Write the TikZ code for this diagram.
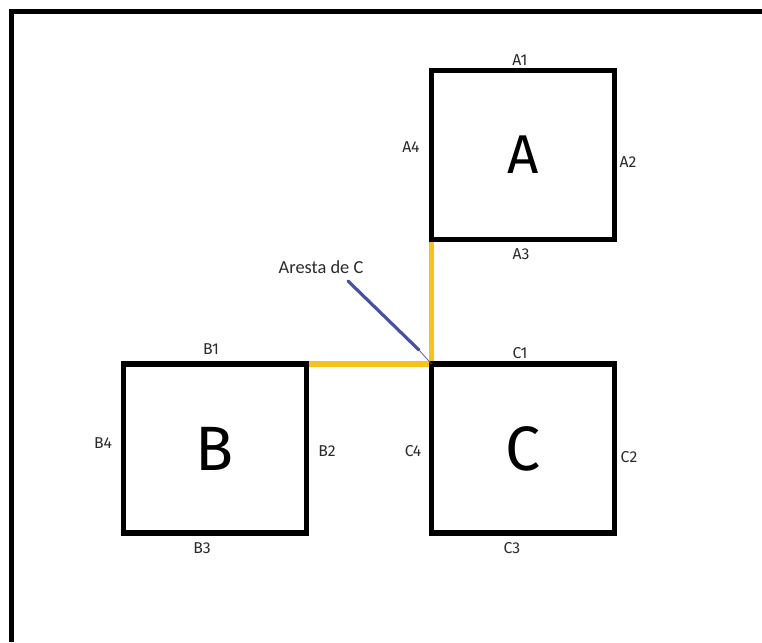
\documentclass[tikz,border=0pt]{standalone}
\usepackage{fontspec}
\setmainfont{Fira Sans}
\newfontfamily\calfont{Carlito}
\definecolor{edgeyellow}{HTML}{F7C31A}
\definecolor{pointerblue}{HTML}{4651A3}
\definecolor{labelgray}{HTML}{2A2A2A}
\pgfdeclarelayer{bg}
\pgfsetlayers{bg,main}
\begin{document}
\begin{tikzpicture}[x=0.75pt,y=-0.75pt,
  sq/.style={draw=black,line width=3.9pt,minimum width=137.25pt,minimum height=126.75pt,inner sep=0pt,outer sep=0pt,font=\fontsize{47}{50}\selectfont},
  sqa/.style={sq,font=\fontsize{41}{45}\selectfont},
  lbl/.style={inner sep=0pt,text=labelgray,font=\fontsize{11.8}{13}\selectfont},
  yel/.style={draw=edgeyellow,line width=3.9pt},
  frame/.style={draw=black,line width=3.9pt}]
\useasboundingbox (0,0) rectangle (762,642);
% frame
\coordinate (f1) at (11.5,642);
\coordinate (f2) at (11.5,11.5);
\coordinate (f3) at (762,11.5);
\draw[frame] (f1) -- (f2) -- (f3);
% squares
\node[sqa] (A) at (523,155) {A};
\node[sq] (B) at (215,448.5) {B};
\node[sq] (C) at (523,448.5) {C};
% yellow edges
\begin{pgfonlayer}{bg}
\draw[yel] (A.south west) -- (C.north west);
\draw[yel] (B.north east) -- (C.north west);
\end{pgfonlayer}
% labels
\node[lbl] (a1) at (520,60) {A1};
\node[lbl] (a2) at (628,162) {A2};
\node[lbl] (a3) at (521,254) {A3};
\node[lbl] (a4) at (411,147) {A4};
\node[lbl] (b1) at (211,349) {B1};
\node[lbl] (b2) at (327,451) {B2};
\node[lbl] (b3) at (202,548) {B3};
\node[lbl] (b4) at (103,443) {B4};
\node[lbl] (c1) at (520,353) {C1};
\node[lbl] (c2) at (629,457) {C2};
\node[lbl] (c3) at (512,548) {C3};
\node[lbl] (c4) at (413,451) {C4};
% pointer
\node[inner sep=0pt,text=labelgray,font=\calfont\fontsize{13.8}{15}\selectfont] (ar) at (321,267) {Aresta de C};
\coordinate (ps) at (348,281);
\coordinate (pm) at (419,350);
\draw[pointerblue,line width=2.4pt,line cap=round] (ps) -- (pm);
\draw[pointerblue!60!gray,line width=0.6pt] (pm) -- (C.north west);
\end{tikzpicture}
\end{document}
